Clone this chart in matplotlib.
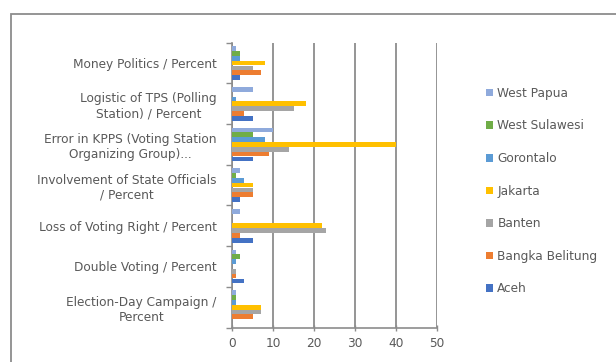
import matplotlib
matplotlib.use("Agg")
import matplotlib.pyplot as plt
from matplotlib.patches import Rectangle
import numpy as np

# Categories listed bottom-to-top as they appear on the y axis
categories = [
    "Election-Day Campaign /\nPercent",
    "Double Voting / Percent",
    "Loss of Voting Right / Percent",
    "Involvement of State Officials\n/ Percent",
    "Error in KPPS (Voting Station\nOrganizing Group)...",
    "Logistic of TPS (Polling\nStation) / Percent",
    "Money Politics / Percent",
]

aceh = [0, 3, 5, 2, 5, 5, 2]
bangka_belitung = [5, 1, 2, 5, 9, 3, 7]
banten = [7, 1, 23, 5, 14, 15, 5]
jakarta = [7, 0, 22, 5, 40, 18, 8]
gorontalo = [1, 1, 0, 3, 8, 1, 2]
west_sulawesi = [1, 2, 0, 1, 5, 0, 2]
west_papua = [1, 1, 2, 2, 10, 5, 1]

series_names = ["Aceh", "Bangka Belitung", "Banten", "Jakarta",
                "Gorontalo", "West Sulawesi", "West Papua"]
series_values = [aceh, bangka_belitung, banten, jakarta,
                 gorontalo, west_sulawesi, west_papua]
colors = ["#4472C4", "#ED7D31", "#A5A5A5", "#FFC000",
          "#5B9BD5", "#70AD47", "#8FAADC"]

xticks = [0, 10, 20, 30, 40, 50]
FS = 8.7
TXT = "#595959"

fig = plt.figure(figsize=(6.16, 3.62), dpi=100)
ax = fig.add_axes([232 / 616, 1 - 327.5 / 362, 205 / 616, 284.8 / 362])

# chart-area outline
fig.add_artist(Rectangle((10.5 / 616, -0.1), 1.2, 1 - 14 / 362 + 0.1,
                         transform=fig.transFigure, fill=False,
                         edgecolor="#8c8c8c", linewidth=1.3, zorder=0))

n = len(series_names)
group = 0.83
h = group / n
y = np.arange(len(categories))
handles = []
for i, (name, vals, c) in enumerate(zip(series_names, series_values, colors)):
    offs = -group / 2 + h * (i + 0.5)
    b = ax.barh(y + offs, vals, height=h * 0.98, color=c, label=name, zorder=3)
    handles.append(b)

ax.set_xlim(0, 50)
ax.set_ylim(-0.5, len(categories) - 0.5)
ax.set_xticks(xticks)
ax.set_xticklabels([str(t) for t in xticks], fontsize=FS, color=TXT)
ax.set_yticks(y)
ax.set_yticklabels(categories, fontsize=FS, color=TXT,
                   multialignment="center")
ax.set_yticks(np.arange(-0.5, len(categories)), minor=True)
ax.tick_params(axis="y", which="major", length=0, pad=11)
ax.tick_params(axis="y", which="minor", length=4, color="#8c8c8c", width=1)
ax.tick_params(axis="x", which="major", length=5, direction="inout",
               color="#8c8c8c", width=1, pad=4)

ax.grid(axis="x", color="#8c8c8c", linewidth=1.3, zorder=0)
ax.set_axisbelow(True)
for s in ["top", "right"]:
    ax.spines[s].set_visible(False)
for s in ["left", "bottom"]:
    ax.spines[s].set_color("#8c8c8c")
    ax.spines[s].set_linewidth(1.2)

leg = fig.legend(handles[::-1], series_names[::-1],
                 loc="upper left", bbox_to_anchor=(475 / 616, 1 - 76 / 362),
                 frameon=False, fontsize=FS, labelcolor=TXT,
                 handlelength=0.6, handleheight=0.6, handletextpad=0.35,
                 labelspacing=1.62)

fig.savefig("out.png", dpi=100)
